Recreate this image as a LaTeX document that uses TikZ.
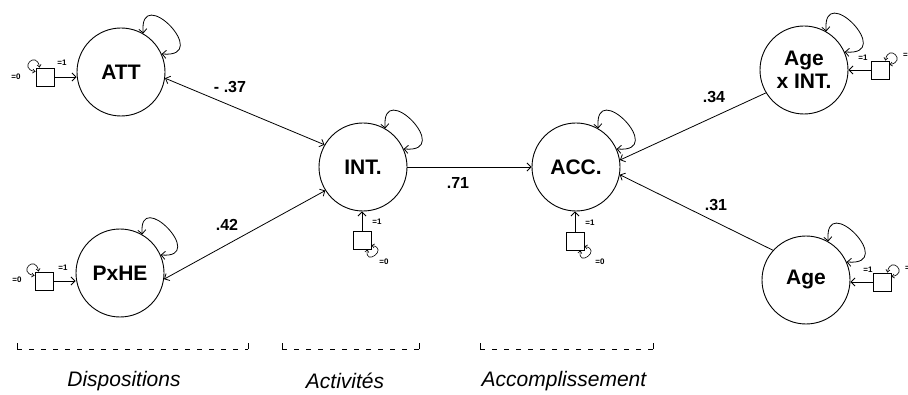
\documentclass[tikz,border=0pt]{standalone}
\usepackage{fontspec}
\setmainfont{Liberation Sans}
\usetikzlibrary{arrows.meta}
\begin{document}
\begin{tikzpicture}[x=1pt,y=1pt,
  >={Straight Barb[length=4pt,width=8pt]},
  lat/.style={circle, draw, line width=0.9pt, minimum size=88pt, inner sep=0pt,
    font=\bfseries\fontsize{21}{23}\selectfont, align=center},
  obs/.style={rectangle, draw, line width=0.8pt, minimum size=18pt, inner sep=0pt},
  conn/.style={line width=0.8pt},
  bigloop/.style={line width=0.8pt, <->},
  smallloop/.style={line width=0.6pt, {Straight Barb[length=2.5pt,width=4pt]}-{Straight Barb[length=2.5pt,width=4pt]}},
  tinylab/.style={font=\bfseries\fontsize{8}{9}\selectfont, inner sep=0pt},
  coef/.style={font=\bfseries\fontsize{16}{18}\selectfont, inner sep=0pt},
  grp/.style={font=\itshape\fontsize{21}{24}\selectfont, inner sep=0pt},
  brk/.style={line width=0.7pt}
]
\useasboundingbox (0,0) rectangle (908,394);
\clip (0,0) rectangle (908,394);

% latent variables
\node[lat] (ATT) at (121,322) {ATT};
\node[lat] (PxHE) at (120,121) {PxHE};
\node[lat] (INT) at (363,227) {INT.};
\node[lat] (ACC) at (576,227) {ACC.};
\node[lat] (AgeINT) at (804,324) {Age\\x INT.};
\node[lat] (Age) at (806,114) {Age};

% observed boxes
\node[obs] (bATT) at (45,317) {};
\node[obs] (bPxHE) at (44,113) {};
\node[obs] (bINT) at (362,154) {};
\node[obs] (bACC) at (575,153) {};
\node[obs] (bAgeINT) at (880,324) {};
\node[obs] (bAge) at (882,112) {};

% box arrows
\draw[conn,->] (bATT.east) -- (bATT.east -| ATT.west);
\draw[conn,->] (bPxHE.east) -- (bPxHE.east -| PxHE.west);
\draw[conn,->] (bINT.north) -- (bINT.north |- INT.south);
\draw[conn,->] (bACC.north) -- (bACC.north |- ACC.south);
\draw[conn,->] (bAgeINT.west) -- (bAgeINT.west -| AgeINT.east);
\draw[conn,->] (bAge.west) -- (bAge.west -| Age.east);

% small labels
\node[tinylab] (oATT) at (62,331) {=1};
\node[tinylab] (zATT) at (16,317) {=0};
\node[tinylab] (oPxHE) at (63,126) {=1};
\node[tinylab] (zPxHE) at (17,114) {=0};
\node[tinylab] (oINT) at (377,172) {=1};
\node[tinylab] (zINT) at (384,132) {=0};
\node[tinylab] (oACC) at (590,171) {=1};
\node[tinylab] (zACC) at (600,132) {=0};
\node[tinylab] (oAgeINT) at (863,336) {=1};
\node[tinylab,anchor=west] (zAgeINT) at (903,339) {=0};
\node[tinylab] (oAge) at (868,124) {=1};
\node[tinylab,anchor=west] (zAge) at (905,126) {=0};

% small loops on boxes
\draw[smallloop] ([xshift=4pt]bATT.north west) .. controls +(100:18) and +(170:18) .. ([yshift=-4pt]bATT.north west);
\draw[smallloop] ([xshift=4pt]bPxHE.north west) .. controls +(100:18) and +(170:18) .. ([yshift=-4pt]bPxHE.north west);
\draw[smallloop] ([xshift=-4pt]bINT.south east) .. controls +(-100:18) and +(-10:18) .. ([yshift=4pt]bINT.south east);
\draw[smallloop] ([xshift=-4pt]bACC.south east) .. controls +(-100:18) and +(-10:18) .. ([yshift=4pt]bACC.south east);
\draw[smallloop] ([xshift=-4pt]bAgeINT.north east) .. controls +(80:18) and +(10:18) .. ([yshift=-4pt]bAgeINT.north east);
\draw[smallloop] ([xshift=-4pt]bAge.north east) .. controls +(80:18) and +(10:18) .. ([yshift=-4pt]bAge.north east);

% self loops on latent variables
\draw[bigloop] (ATT.60) .. controls +(95:52) and +(-5:52) .. (ATT.24);
\draw[bigloop] (PxHE.60) .. controls +(95:48) and +(-5:48) .. (PxHE.24);
\draw[bigloop] (INT.60) .. controls +(95:52) and +(-5:52) .. (INT.24);
\draw[bigloop] (ACC.60) .. controls +(95:52) and +(-5:52) .. (ACC.24);
\draw[bigloop] (AgeINT.60) .. controls +(95:52) and +(-5:52) .. (AgeINT.24);
\draw[bigloop] (Age.60) .. controls +(95:52) and +(-5:52) .. (Age.24);

% structural paths
\draw[conn,<->] (ATT.-8) -- (INT.150);
\draw[conn,<->] (PxHE.-8) -- (INT.212);
\draw[conn,->] (INT) -- (ACC);
\draw[conn,->] (AgeINT.211) -- (ACC.9);
\draw[conn,->] (Age.138) -- (ACC.-10);

% coefficients
\node[coef] (c1) at (230,307) {- .37};
\node[coef] (c2) at (227,169) {.42};
\node[coef] (c3) at (458,211) {.71};
\node[coef] (c4) at (714,297) {.34};
\node[coef] (c5) at (716,189) {.31};

% brackets
\draw[brk] (17,51) -- (17,45) (248,45) -- (248,51);
\draw[brk,dash pattern=on 5pt off 7pt] (17,45) -- (248,45);
\draw[brk] (282,51) -- (282,45) (419,45) -- (419,51);
\draw[brk,dash pattern=on 5pt off 7pt] (282,45) -- (419,45);
\draw[brk] (480,51) -- (480,45) (653,45) -- (653,51);
\draw[brk,dash pattern=on 5pt off 7pt] (480,45) -- (653,45);

\node[grp] (g1) at (124,13) {Dispositions};
\node[grp] (g2) at (345,13) {Activités};
\node[grp] (g3) at (564,13) {Accomplissement};
\end{tikzpicture}
\end{document}
